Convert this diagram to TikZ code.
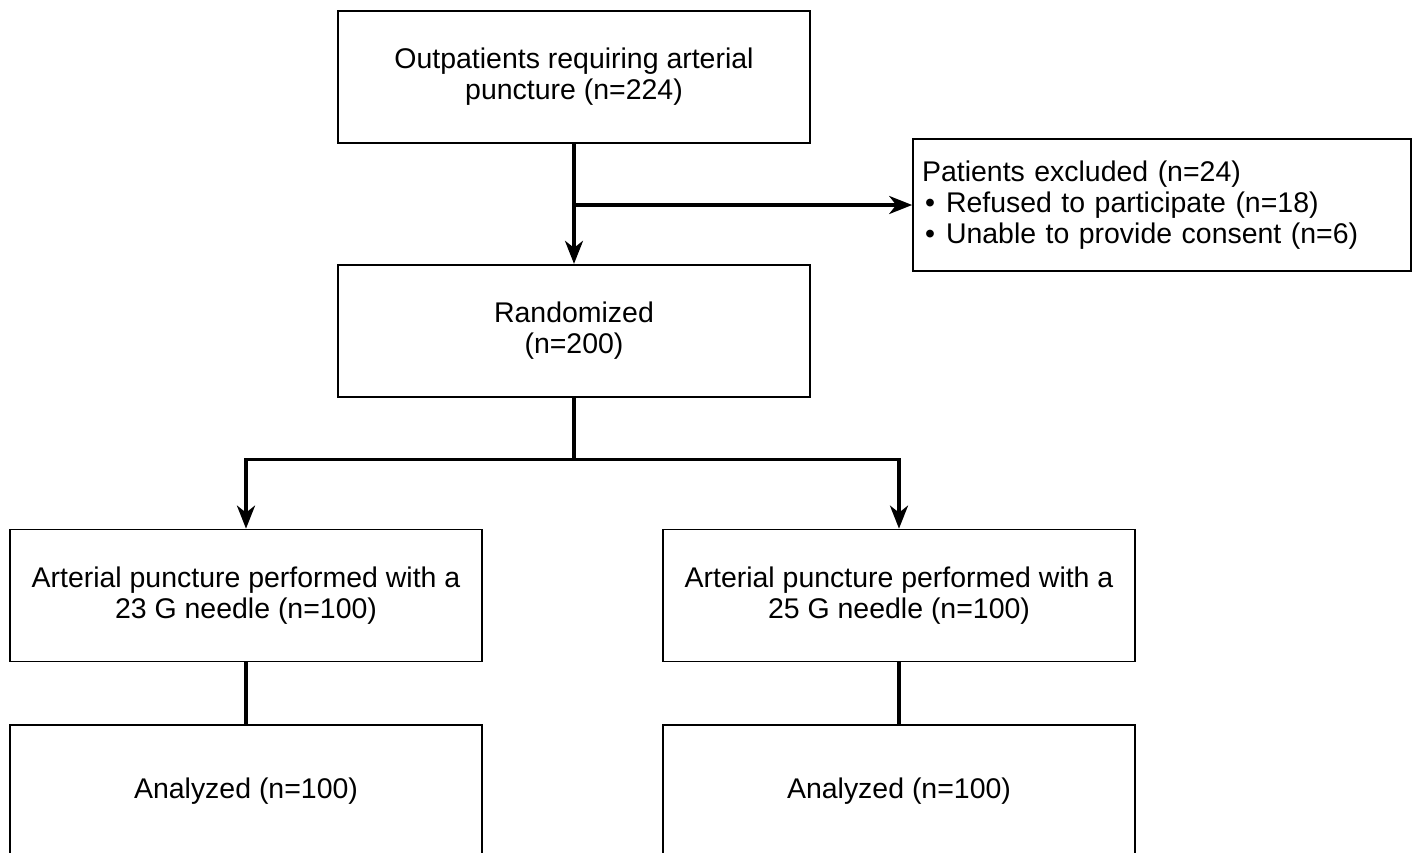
\documentclass[tikz,border=0pt]{standalone}
\usepackage{fontspec}
\setmainfont{Liberation Sans}
\usetikzlibrary{arrows.meta,positioning}

\begin{document}
\begin{tikzpicture}[
    >={Stealth[length=0.46cm, width=0.36cm, inset=0.14cm]},
    x=0.02cm, y=-0.02cm,
    font=\fontsize{16.2}{17.6}\selectfont,
    box/.style={draw, line width=1pt, minimum width=9.44cm, minimum height=2.64cm, align=center, inner sep=0pt},
    flow/.style={line width=2pt}
]

\useasboundingbox (0,0) rectangle (1413,852);

% Enrolment
\node[box] (top) at (574,77) {Outpatients requiring arterial\\puncture (n=224)};

\node[box, below=2.4cm of top] (randomized) {Randomized\\(n=200)};

% Exclusions
\node[
    draw,
    line width=1pt,
    minimum width=9.96cm,
    minimum height=2.64cm,
    text width=9.6cm,
    inner xsep=0.18cm,
    align=left
] (excluded) at (1162,205)
  {Patients excluded (n=24)\\
   \hspace*{0.06cm}\textbullet\hspace{0.22cm}Refused to participate (n=18)\\
   \hspace*{0.06cm}\textbullet\hspace{0.22cm}Unable to provide consent (n=6)};

% Allocation
\node[box] (armA) at (246,595.5) {Arterial puncture performed with a\\23 G needle (n=100)};
\node[box] (armB) at (899,595.5) {Arterial puncture performed with a\\25 G needle (n=100)};

% Analysis
\node[box, below=1.24cm of armA] (anaA) {Analyzed (n=100)};
\node[box, below=1.24cm of armB] (anaB) {Analyzed (n=100)};

% Connectors
\draw[->, flow] (top) -- (randomized);
\draw[->, flow] (top.south |- excluded.west) -- (excluded.west);

\coordinate[below=1.24cm of randomized.south] (split);
\draw[->, flow] (randomized.south) -- (split) -| (armA.north);
\draw[->, flow] (split) -| (armB.north);

\draw[flow] (armA) -- (anaA);
\draw[flow] (armB) -- (anaB);

\end{tikzpicture}
\end{document}
